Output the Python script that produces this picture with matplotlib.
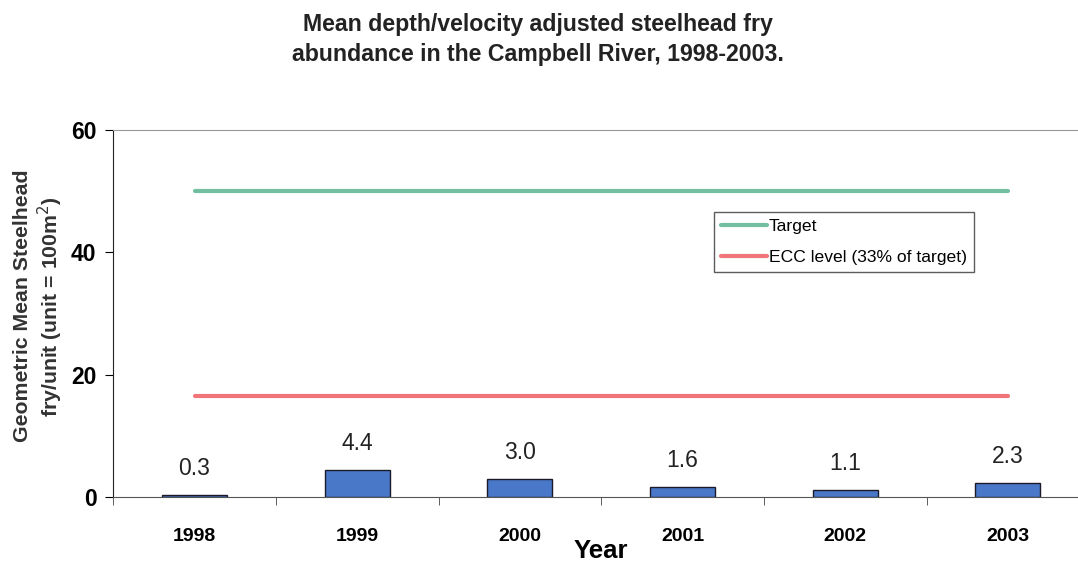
import matplotlib
matplotlib.use("Agg")
import matplotlib.pyplot as plt
import numpy as np

plt.rcParams['font.family'] = ['Liberation Sans', 'DejaVu Sans']

years = ['1998', '1999', '2000', '2001', '2002', '2003']
fry = [0.3, 4.4, 3.0, 1.6, 1.1, 2.3]
target = [50, 50, 50, 50, 50, 50]
ecc = [16.5, 16.5, 16.5, 16.5, 16.5, 16.5]

fig = plt.figure(figsize=(10.78, 5.62), dpi=100)
ax = fig.add_axes([0.105, 0.1157, 0.9054, 0.653])

x = np.arange(len(years))
ax.bar(x, fry, width=0.4, color='#4a78c8', edgecolor='#1a1a2a', linewidth=1.0, zorder=3)
for xi, v in zip(x, fry):
    ax.annotate(f'{v:.1f}', (xi, v), xytext=(0, 19), textcoords='offset points',
                ha='center', va='center', fontsize=16.5, color='#222222')

ax.plot(x, target, color='#72bfa0', linewidth=3, label='Target', solid_capstyle='round')
ax.plot(x, ecc, color='#f07478', linewidth=3, label='ECC level (33% of target)', solid_capstyle='round')

ax.set_xlim(-0.5, len(years) - 0.5)
ax.set_ylim(0, 60)
ax.set_yticks([0, 20, 40, 60])
ax.set_xticks(x)
ax.set_xticklabels(years, fontweight='bold', fontsize=14)
ax.set_xticks(np.arange(-0.5, len(years)), minor=True)
ax.tick_params(axis='x', which='major', length=0, pad=22)
ax.tick_params(axis='x', which='minor', length=6, direction='out', color='#444444')
ax.tick_params(axis='y', labelsize=16.5, length=6, direction='out', pad=6)
for lbl in ax.get_yticklabels():
    lbl.set_fontweight('bold')

ax.spines['top'].set_color('#999999')
ax.spines['right'].set_visible(False)
ax.spines['left'].set_color('#222222')
ax.spines['bottom'].set_color('#555555')

ax.set_xlabel('Year', fontsize=18.5, fontweight='bold', labelpad=-4)
ax.set_ylabel('Geometric Mean Steelhead\nfry/unit (unit = 100m$^2$)', fontsize=15.3,
              fontweight='bold', color='#333333')
ax.yaxis.set_label_coords(-0.049, 0.52)

fig.text(0.499, 0.93, 'Mean depth/velocity adjusted steelhead fry\nabundance in the Campbell River, 1998-2003.',
         ha='center', va='center', fontsize=16.7, fontweight='bold', color='#222222', linespacing=1.4)

leg = ax.legend(loc='upper left', bbox_to_anchor=(0.616, 0.777), frameon=True, fancybox=False,
                edgecolor='#333333', fontsize=12.6, handlelength=2.6, handletextpad=0.1,
                borderaxespad=0, labelspacing=0.9, borderpad=0.4)
leg.get_frame().set_linewidth(1.0)

fig.savefig('out.png', dpi=100)
